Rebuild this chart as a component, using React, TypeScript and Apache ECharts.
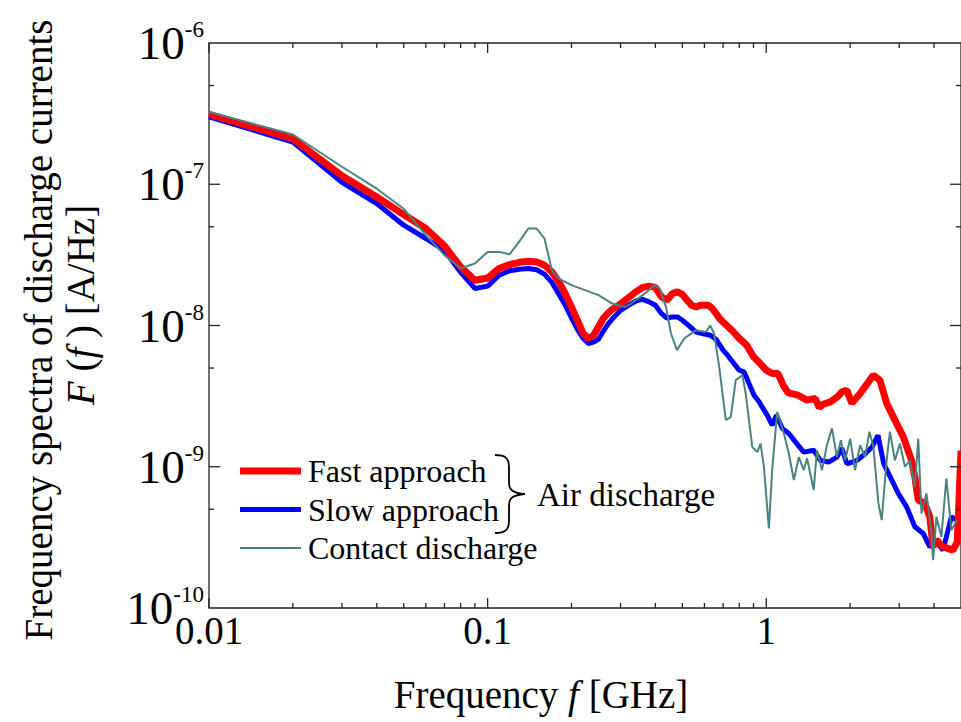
import React, { useEffect, useRef } from "react";
import * as echarts from "echarts";

// [frequency (GHz), spectrum (A/Hz)]
const fastApproach: [number, number][] = [
  [0.01, 3.13e-7], [0.02, 2.1e-7], [0.03, 1.15e-7], [0.04, 8.13e-8], [0.05, 6.1e-8],
  [0.06, 4.86e-8], [0.07, 3.66e-8], [0.08, 2.6e-8], [0.09, 2.09e-8], [0.1, 2.17e-8],
  [0.11, 2.53e-8], [0.12, 2.7e-8], [0.13, 2.8e-8], [0.14, 2.85e-8], [0.15, 2.82e-8],
  [0.16, 2.67e-8], [0.17, 2.4e-8], [0.18, 2.04e-8], [0.19, 1.68e-8], [0.2, 1.35e-8],
  [0.21, 1.09e-8], [0.22, 8.8e-9], [0.23, 8.1e-9], [0.24, 8.5e-9], [0.25, 9.8e-9],
  [0.26, 1.12e-8], [0.27, 1.22e-8], [0.28, 1.3e-8], [0.3, 1.42e-8], [0.32, 1.57e-8],
  [0.34, 1.73e-8], [0.36, 1.86e-8], [0.38, 1.9e-8], [0.4, 1.86e-8], [0.42, 1.6e-8],
  [0.44, 1.51e-8], [0.46, 1.68e-8], [0.48, 1.73e-8], [0.5, 1.66e-8], [0.52, 1.51e-8],
  [0.54, 1.39e-8], [0.56, 1.35e-8], [0.58, 1.39e-8], [0.6, 1.39e-8], [0.62, 1.39e-8],
  [0.64, 1.32e-8], [0.66, 1.22e-8], [0.68, 1.12e-8], [0.7, 1.06e-8], [0.75, 9.3e-9],
  [0.8, 8.1e-9], [0.85, 7.26e-9], [0.9, 6.0e-9], [0.95, 5.4e-9], [1.0, 4.83e-9],
  [1.05, 4.57e-9], [1.1, 4.6e-9], [1.15, 3.78e-9], [1.2, 3.33e-9], [1.3, 3.21e-9],
  [1.4, 2.96e-9], [1.5, 3.04e-9], [1.55, 2.62e-9], [1.6, 2.77e-9], [1.7, 2.88e-9],
  [1.8, 3.12e-9], [1.868, 3.39e-9], [1.947, 3.48e-9], [2.028, 2.81e-9], [2.172, 3.3e-9],
  [2.424, 4.45e-9], [2.559, 4.1e-9], [2.705, 2.81e-9], [2.937, 2.02e-9], [3.103, 1.63e-9],
  [3.323, 1.11e-9], [3.414, 8.5e-10], [3.512, 5.8e-10], [3.707, 5.5e-10], [3.863, 4.42e-10],
  [3.971, 2.71e-10], [4.08, 3.03e-10], [4.311, 2.71e-10], [4.682, 2.57e-10], [4.85, 2.94e-10],
  [5.0, 1.3e-9],
];

const slowApproach: [number, number][] = [
  [0.01, 3.0e-7], [0.02, 1.99e-7], [0.03, 1.03e-7], [0.04, 7.3e-8], [0.05, 5.13e-8],
  [0.06, 4.13e-8], [0.07, 3.4e-8], [0.08, 2.38e-8], [0.09, 1.83e-8], [0.1, 1.9e-8],
  [0.11, 2.27e-8], [0.12, 2.44e-8], [0.13, 2.5e-8], [0.14, 2.53e-8], [0.15, 2.48e-8],
  [0.16, 2.31e-8], [0.17, 2.02e-8], [0.18, 1.67e-8], [0.19, 1.39e-8], [0.2, 1.13e-8],
  [0.21, 9.4e-9], [0.22, 8.13e-9], [0.23, 7.46e-9], [0.24, 7.62e-9], [0.25, 8.0e-9],
  [0.26, 9.1e-9], [0.27, 1.02e-8], [0.28, 1.11e-8], [0.3, 1.28e-8], [0.32, 1.39e-8],
  [0.34, 1.49e-8], [0.36, 1.53e-8], [0.38, 1.47e-8], [0.4, 1.39e-8], [0.42, 1.22e-8],
  [0.44, 1.13e-8], [0.46, 1.15e-8], [0.48, 1.15e-8], [0.5, 1.09e-8], [0.53, 9.9e-9],
  [0.56, 8.97e-9], [0.6, 8.7e-9], [0.63, 8.53e-9], [0.66, 8.0e-9], [0.7, 6.7e-9],
  [0.726, 6.16e-9], [0.799, 4.83e-9], [0.832, 4.7e-9], [0.904, 3.21e-9], [0.942, 2.88e-9],
  [1.008, 2.32e-9], [1.05, 1.97e-9], [1.088, 2.32e-9], [1.141, 1.87e-9], [1.205, 1.72e-9],
  [1.272, 1.5e-9], [1.363, 1.27e-9], [1.48, 1.31e-9], [1.563, 1.11e-9], [1.675, 1.08e-9],
  [1.793, 1.17e-9], [1.868, 1.35e-9], [1.947, 1.05e-9], [2.119, 1.11e-9], [2.27, 1.24e-9],
  [2.397, 1.38e-9], [2.518, 1.67e-9], [2.64, 1.05e-9], [2.826, 8.0e-10], [2.978, 6.47e-10],
  [3.19, 5.2e-10], [3.414, 3.76e-10], [3.658, 3.37e-10], [3.863, 2.71e-10], [4.08, 2.94e-10],
  [4.311, 2.57e-10], [4.617, 4.42e-10], [4.85, 4.19e-10],
];

const contactDischarge: [number, number][] = [
  [0.01, 3.25e-7], [0.02, 2.25e-7], [0.03, 1.33e-7], [0.04, 9.3e-8], [0.05, 6.7e-8],
  [0.06, 4.36e-8], [0.07, 3.15e-8], [0.08, 2.53e-8], [0.09, 2.75e-8], [0.1, 3.32e-8],
  [0.11, 3.32e-8], [0.12, 3.2e-8], [0.13, 3.94e-8], [0.14, 4.86e-8], [0.15, 4.86e-8],
  [0.16, 4.13e-8], [0.17, 2.46e-8], [0.18, 2.15e-8], [0.2, 1.93e-8], [0.25, 1.64e-8],
  [0.28, 1.43e-8], [0.31, 1.35e-8], [0.328, 1.43e-8], [0.366, 1.68e-8], [0.397, 1.93e-8],
  [0.414, 1.83e-8], [0.437, 1.35e-8], [0.455, 8.78e-9], [0.478, 6.69e-9], [0.508, 8.09e-9],
  [0.559, 9.27e-9], [0.607, 9.0e-9], [0.629, 1.0e-8], [0.65, 8.78e-9], [0.678, 5.09e-9],
  [0.716, 2.14e-9], [0.746, 2.25e-9], [0.777, 4.1e-9], [0.821, 4.45e-9], [0.844, 3.3e-9],
  [0.891, 1.38e-9], [0.929, 1.27e-9], [0.954, 1.46e-9], [0.981, 9.98e-10], [1.022, 3.66e-10],
  [1.05, 9.46e-10], [1.095, 2.45e-9], [1.157, 1.72e-9], [1.205, 1.24e-9], [1.256, 8.04e-10],
  [1.309, 1.17e-9], [1.363, 9.46e-10], [1.401, 1.15e-9], [1.48, 6.83e-10], [1.52, 1.31e-9],
  [1.585, 9.46e-10], [1.651, 1.42e-9], [1.721, 1.87e-9], [1.793, 1.17e-9], [1.853, 1.54e-9],
  [1.919, 1.11e-9], [2.0, 1.58e-9], [2.084, 9.46e-10], [2.172, 1.42e-9], [2.263, 1.17e-9],
  [2.346, 1.77e-9], [2.424, 1.38e-9], [2.527, 5.5e-10], [2.596, 4.19e-10], [2.705, 1.11e-9],
  [2.779, 1.77e-9], [2.896, 1.11e-9], [3.017, 1.46e-9], [3.146, 1.0e-9], [3.277, 1.11e-9],
  [3.414, 7.2e-10], [3.512, 1.58e-9], [3.607, 4.67e-10], [3.758, 6.47e-10], [3.916, 3.37e-10],
  [3.971, 2.18e-10], [4.08, 4.42e-10], [4.251, 3.19e-10], [4.43, 8.26e-10], [4.617, 3.56e-10],
  [4.85, 4.19e-10],
];

const seriesNames = ["Fast approach", "Slow approach", "Contact discharge"];
const seriesColors = ["#ff0000", "#0000ff", "#4a8282"];
const xMajorTicks = [0.01, 0.1, 1];
const xMinorTicks = [0.02, 0.03, 0.04, 0.05, 0.06, 0.07, 0.08, 0.09, 0.2, 0.3, 0.4, 0.5, 0.6, 0.7, 0.8, 0.9, 2, 3, 4];
const yMajorTicks = [1e-9, 1e-8, 1e-7];
const yMinorTicks = [5e-10, 5e-9, 5e-8, 5e-7];

const SERIF = '"Liberation Serif", "Times New Roman", serif';

// legend icons: a 61x14 box with a horizontal band of the series' line thickness
const lineIcon = (t: number) => {
  const a = (14 - t) / 2;
  const b = a + t;
  return `path://M0,0M61,14M0,${a}L61,${a}L61,${b}L0,${b}Z`;
};

export default function App() {
  const ref = useRef<HTMLDivElement>(null);
  useEffect(() => {
    if (!ref.current) return;
    try {
      echarts.graphic.registerShape(
        "brace",
        echarts.graphic.extendPath(
          "M0,0 C10,0 14,3 14,12 L14,28 C14,35 18,38 30,39 C18,40 14,43 14,50 L14,66 C14,75 10,78 0,78",
          {}
        )
      );
    } catch (e) {}
    const chart = echarts.init(ref.current, null, { renderer: "svg" });
    const tickData = [
      ...xMajorTicks.map((v) => [v, 1e-8, 0]),
      ...xMinorTicks.map((v) => [v, 1e-8, 1]),
      ...yMajorTicks.map((v) => [0.1, v, 2]),
      ...yMinorTicks.map((v) => [0.1, v, 3]),
    ];
    const tickStyle = { stroke: "#222", lineWidth: 1.3 };
    const widths = [7, 5, 2];
    chart.setOption({
      animation: false,
      backgroundColor: "#fff",
      grid: {
        left: 209,
        top: 43,
        right: -4,
        bottom: 114,
        show: true,
        borderColor: "#222",
        borderWidth: 1.3,
        backgroundColor: "transparent",
      },
      legend: {
        data: seriesNames.map((name, i) => ({
          name,
          icon: lineIcon(widths[i]),
          itemStyle: { color: seriesColors[i], borderWidth: 0 },
        })),
        orient: "vertical",
        left: 235,
        top: 450,
        itemWidth: 61,
        itemHeight: 14,
        itemGap: 6.5,
        textStyle: {
          fontFamily: SERIF,
          fontSize: 32,
          color: "#000",
          lineHeight: 32,
          padding: [0, 0, 0, 2],
        },
      },
      xAxis: {
        type: "log",
        logBase: 10,
        min: 0.01,
        max: 5,
        axisLine: { show: false },
        axisTick: { show: false },
        splitLine: { show: false },
        minorTick: { show: false },
        axisLabel: {
          showMaxLabel: false,
          margin: 3,
          fontFamily: SERIF,
          fontSize: 39,
          color: "#000",
          formatter: (v: number) => {
            const e = Math.round(Math.log10(v));
            if (e === -2) return "0.01";
            if (e === -1) return "0.1";
            if (e === 0) return "1";
            return "";
          },
        },
      },
      yAxis: {
        type: "log",
        logBase: 10,
        min: 1e-10,
        max: 1e-6,
        axisLine: { show: false },
        axisTick: { show: false },
        splitLine: { show: false },
        axisLabel: {
          margin: 5,
          color: "#000",
          formatter: (v: number) => {
            const e = Math.round(Math.log10(v));
            return `{b|10}{s|${e}}`;
          },
          rich: {
            b: { fontFamily: SERIF, fontSize: 47, lineHeight: 50, color: "#000" },
            s: { fontFamily: SERIF, fontSize: 23, lineHeight: 23, verticalAlign: "top", color: "#000" },
          },
        },
      },
      series: [
        {
          name: seriesNames[0],
          type: "line",
          data: fastApproach,
          showSymbol: false,
          symbol: "none",
          z: 3,
          color: seriesColors[0],
          lineStyle: { color: seriesColors[0], width: widths[0] },
        },
        {
          name: seriesNames[1],
          type: "line",
          data: slowApproach,
          showSymbol: false,
          symbol: "none",
          z: 2,
          color: seriesColors[1],
          lineStyle: { color: seriesColors[1], width: widths[1] },
        },
        {
          name: seriesNames[2],
          type: "line",
          data: contactDischarge,
          showSymbol: false,
          symbol: "none",
          z: 4,
          color: seriesColors[2],
          lineStyle: { color: seriesColors[2], width: widths[2] },
        },
        {
          name: "ticks",
          type: "custom",
          silent: true,
          z: 5,
          data: tickData,
          renderItem: (params: any, api: any) => {
            const cs = params.coordSys;
            const kind = api.value(2);
            const p = api.coord([api.value(0), api.value(1)]);
            if (kind < 2) {
              const len = kind === 0 ? 10 : 5;
              const bottom = cs.y + cs.height;
              const top = cs.y;
              return {
                type: "group",
                children: [
                  { type: "line", shape: { x1: p[0], y1: bottom, x2: p[0], y2: bottom - len }, style: tickStyle },
                  { type: "line", shape: { x1: p[0], y1: top, x2: p[0], y2: top + len }, style: tickStyle },
                ],
              };
            }
            const len = kind === 2 ? 11 : 5;
            const left = cs.x;
            const right = cs.x + cs.width;
            return {
              type: "group",
              children: [
                { type: "line", shape: { x1: left, y1: p[1], x2: left + len, y2: p[1] }, style: tickStyle },
                { type: "line", shape: { x1: right, y1: p[1], x2: right - len, y2: p[1] }, style: tickStyle },
              ],
            };
          },
        },
      ],
      graphic: [
        {
          type: "text",
          x: 38,
          y: 330,
          rotation: Math.PI / 2,
          style: {
            text: "Frequency spectra of discharge currents",
            fontFamily: SERIF,
            fontSize: 39,
            fill: "#000",
            align: "center",
            verticalAlign: "middle",
          },
        },
        {
          type: "text",
          x: 80,
          y: 305,
          rotation: Math.PI / 2,
          style: {
            text: "{i|F} ({i|f} ) [A/Hz]",
            fontFamily: SERIF,
            fontSize: 39,
            fill: "#000",
            align: "center",
            verticalAlign: "middle",
            rich: { i: { fontFamily: SERIF, fontSize: 39, fontStyle: "italic", fill: "#000" } },
          },
        },
        {
          type: "text",
          x: 541,
          y: 694,
          style: {
            text: "Frequency {i|f} [GHz]",
            fontFamily: SERIF,
            fontSize: 39,
            fill: "#000",
            align: "center",
            verticalAlign: "middle",
            rich: { i: { fontFamily: SERIF, fontSize: 39, fontStyle: "italic", fill: "#000" } },
          },
        },
        {
          type: "brace",
          x: 495,
          y: 455,
          style: { fill: "none", stroke: "#000", lineWidth: 1.8 },
        },
        {
          type: "text",
          x: 537,
          y: 495,
          style: {
            text: "Air discharge",
            fontFamily: SERIF,
            fontSize: 33,
            fill: "#000",
            align: "left",
            verticalAlign: "middle",
          },
        },
      ],
    });
    return () => chart.dispose();
  }, []);
  return (
    <div
      ref={ref}
      style={{ position: "fixed", left: 0, top: 0, width: 961, height: 722, background: "#fff" }}
    />
  );
}
